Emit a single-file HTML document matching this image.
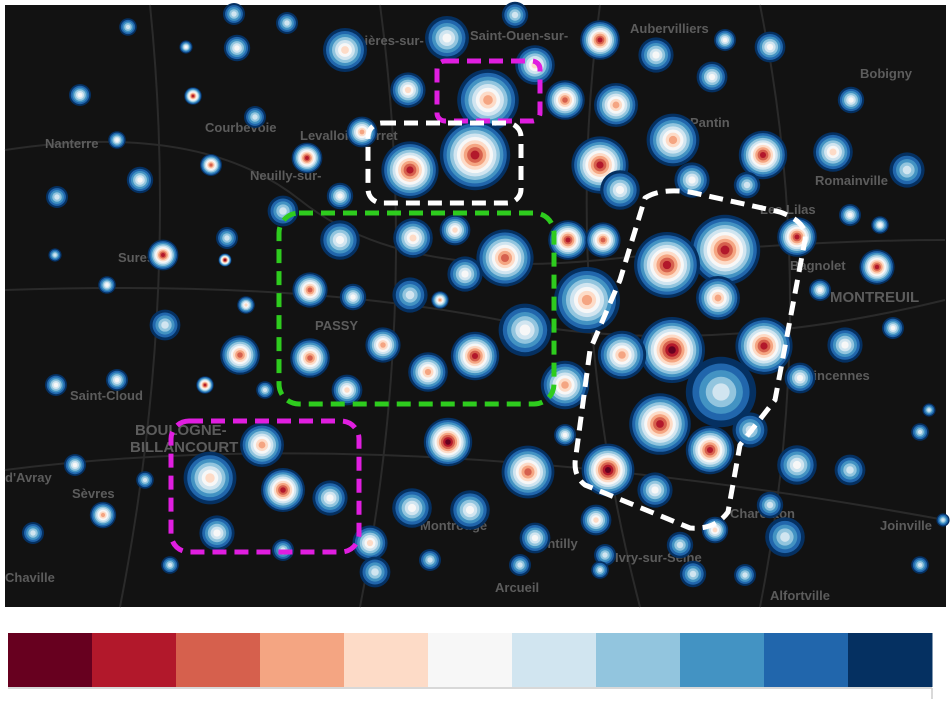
<!DOCTYPE html>
<html><head><meta charset="utf-8"><style>
body{margin:0;background:#fff;width:951px;height:699px;overflow:hidden;font-family:"Liberation Sans",sans-serif}
</style></head><body>
<svg id="chart" width="951" height="699" xmlns="http://www.w3.org/2000/svg">
<rect x="5" y="5" width="941" height="602" fill="#121212"/>
<g id="roads" stroke="#2a2a2a" stroke-width="2" fill="none">
<path d="M5 150 Q200 120 300 200 T600 260 T945 240"/>
<path d="M5 290 Q300 280 500 320 T945 300"/>
<path d="M150 5 Q180 300 120 607"/>
<path d="M600 5 Q560 300 640 607"/>
<path d="M5 470 Q400 420 945 520"/>
<path d="M380 5 Q420 300 360 607"/>
<path d="M760 5 Q820 300 760 607"/>
</g>
<g fill="#5c5c5c" font-weight="bold" font-size="13">
<text x="340" y="45">Asnières-sur-</text><text x="470" y="40">Saint-Ouen-sur-</text><text x="630" y="33">Aubervilliers</text>
<text x="860" y="78">Bobigny</text><text x="45" y="148">Nanterre</text><text x="205" y="132">Courbevoie</text>
<text x="300" y="140">Levallois-Perret</text><text x="250" y="180">Neuilly-sur-</text><text x="690" y="127">Pantin</text>
<text x="815" y="185">Romainville</text><text x="760" y="214">Les Lilas</text><text x="790" y="270">Bagnolet</text>
<text x="830" y="302" font-size="15">MONTREUIL</text><text x="118" y="262">Suresnes</text><text x="315" y="330">PASSY</text>
<text x="805" y="380">Vincennes</text><text x="70" y="400">Saint-Cloud</text><text x="135" y="435" font-size="15">BOULOGNE-</text>
<text x="130" y="452" font-size="15">BILLANCOURT</text><text x="5" y="482">d'Avray</text><text x="72" y="498">Sèvres</text>
<text x="730" y="518">Charenton</text><text x="420" y="530">Montrouge</text><text x="530" y="548">Gentilly</text>
<text x="615" y="562">Ivry-sur-Seine</text><text x="495" y="592">Arcueil</text><text x="770" y="600">Alfortville</text>
<text x="5" y="582">Chaville</text><text x="880" y="530">Joinville</text>
</g>
<g id="bubbles"></g>
<g fill="none" stroke-width="5" stroke-dasharray="14 8" stroke-linejoin="round">
<rect x="437" y="61" width="103" height="60" rx="8" stroke="#e01ee0"/>
<rect x="368" y="123" width="153" height="80" rx="14" stroke="#fff"/>
<rect x="279" y="213" width="275" height="191" rx="20" stroke="#2ecc1e"/>
<rect x="171" y="421" width="188" height="131" rx="18" stroke="#e01ee0"/>
<path d="M645 198 Q660 188 690 192 L780 212 Q808 222 805 240 L775 400 L740 445 L728 512 Q715 530 690 528 L585 485 Q572 475 576 455 L590 350 L620 280 Z" stroke="#fff"/>
</g>
<g id="colorbar"></g>
<line x1="8" y1="688" x2="932" y2="688" stroke="#ccc" stroke-width="1.5"/>
<line x1="932" y1="688" x2="932" y2="699" stroke="#ccc" stroke-width="1.5"/>
</svg>
<script>
const palette=["#67001f","#b2182b","#d6604d","#f4a582","#fddbc7","#f7f7f7","#d1e5f0","#92c5de","#4393c3","#2166ac","#053061"];
const bx=[488,475,410,345,447,600,535,515,565,616,408,362,307,340,283,413,455,505,568,603,600,673,620,692,763,833,747,725,667,797,587,718,672,622,764,565,525,475,428,383,347,310,240,340,310,353,410,465,440,721,710,660,750,608,655,528,448,565,210,262,283,330,217,283,370,412,470,535,596,715,785,797,850,877,907,850,880,893,845,800,770,820,770,725,712,656,851,237,287,234,128,186,80,193,255,211,117,140,163,165,227,246,57,107,56,117,75,145,103,33,170,205,265,375,430,520,605,680,745,693,225,55,920,929,920,943,600];
const by=[100,155,170,50,38,40,65,15,100,105,90,132,158,196,211,238,230,258,240,240,165,140,190,180,155,152,185,250,265,237,300,298,350,355,346,385,330,356,372,345,390,358,355,240,290,297,295,274,300,392,450,424,430,470,490,472,442,435,478,445,490,498,533,550,543,508,510,538,520,530,537,465,470,267,170,215,225,328,345,378,505,290,47,40,77,55,100,48,23,14,27,47,95,96,117,165,140,180,255,325,238,305,197,285,385,380,465,480,515,533,565,385,390,572,560,565,555,545,575,574,260,255,432,410,565,520,570];
const br=[28,32,26,20,20,18,18,12,18,20,16,14,14,12,14,18,14,26,18,16,26,24,18,16,22,18,12,32,30,18,30,20,30,22,26,22,24,22,18,16,14,18,18,18,16,12,16,16,8,32,22,28,16,24,16,24,22,10,24,20,20,16,16,10,16,18,18,14,14,12,18,18,14,16,16,10,8,10,16,14,12,10,14,10,14,16,12,12,10,10,8,6,10,8,10,10,8,12,14,14,10,8,10,8,10,10,10,8,12,10,8,8,8,14,10,10,10,12,10,12,6,6,8,6,8,6,8];
const blevel=[3,1,1,4,5,1,4,6,2,3,4,3,1,5,6,4,4,2,1,2,1,3,5,5,1,4,6,1,1,1,3,3,0,3,1,3,5,1,3,3,4,2,2,5,2,5,6,5,3,6,1,1,6,0,5,2,0,5,4,3,1,5,5,6,4,5,5,5,4,4,6,5,6,1,6,5,5,5,5,5,6,5,5,5,5,5,5,5,6,6,6,5,5,1,6,2,5,5,1,6,6,4,6,5,5,5,5,6,3,6,6,1,6,6,6,6,6,6,6,6,0,6,6,6,6,6,6];
const NS="http://www.w3.org/2000/svg";
const g=document.getElementById('bubbles');
for(let i=0;i<bx.length;i++){
  const L=blevel[i],n=11-L,R=br[i]*1.1;
  const grp=document.createElementNS(NS,'g');
  
  
  for(let k=10;k>=L;k--){
    const c=document.createElementNS(NS,'circle');
    c.setAttribute('cx',bx[i]);c.setAttribute('cy',by[i]);
    c.setAttribute('r',R*(k-L+1.3)/(n+0.3));
    c.setAttribute('fill',palette[k]);
    
    
    grp.appendChild(c);
  }
  g.appendChild(grp);
}
const cb=document.getElementById('colorbar');
const w=(932-8)/palette.length;
palette.forEach((col,i)=>{
  const r=document.createElementNS(NS,'rect');
  r.setAttribute('x',8+i*w);r.setAttribute('y',633);r.setAttribute('width',w+0.5);r.setAttribute('height',54);
  r.setAttribute('fill',col);
  
  
  cb.appendChild(r);
});
</script>
</body></html>
